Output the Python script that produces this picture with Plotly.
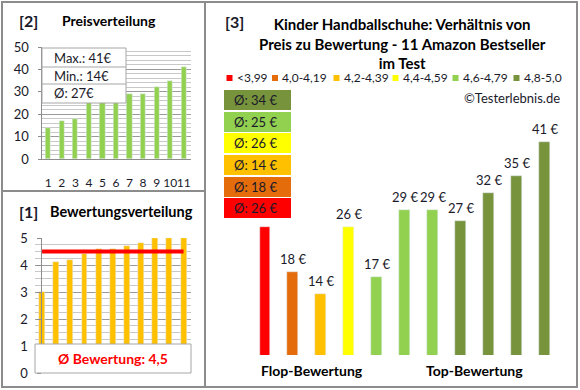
import plotly.graph_objects as go

# ---------------- data ----------------
categories = [str(i) for i in range(1, 12)]
prices = [26, 18, 14, 26, 17, 29, 29, 27, 32, 35, 41]          # right chart order (by rating)
ratings = [3.0, 4.1, 4.2, 4.4, 4.6, 4.6, 4.7, 4.8, 5.0, 5.0, 5.0]
prices_sorted = sorted(prices)
ratings_sorted = sorted(ratings)

group_labels = ["<3,99", "4,0-4,19", "4,2-4,39", "4,4-4,59", "4,6-4,79", "4,8-5,0"]
group_limits = [4.0, 4.2, 4.4, 4.6, 4.8, 99]
group_colors = ["#FF0000", "#E46C0A", "#FFC000", "#FFFF00", "#92D050", "#77933C"]


def group_of(r):
    for i, lim in enumerate(group_limits):
        if r < lim - 1e-9:
            return i
    return len(group_limits) - 1


bar_groups = [group_of(r) for r in ratings]
bar_colors = [group_colors[g] for g in bar_groups]
group_avgs = []
for g in range(len(group_labels)):
    vals = [p for p, bg in zip(prices, bar_groups) if bg == g]
    group_avgs.append(round(sum(vals) / len(vals)))

avg_price = round(sum(prices) / len(prices))
avg_rating = round(sum(ratings) / len(ratings), 1)

# ---------------- helpers ----------------
W, H = 580, 390
FONT = "Lato"
TXT = "#1A1A2A"
NB = "\u00a0"


def px(x):
    return x / W


def py(y):
    return 1 - y / H


fig = go.Figure()

# [2] price distribution
fig.add_trace(go.Bar(x=categories, y=prices_sorted, marker_color="#92D050",
                     width=0.38, xaxis="x", yaxis="y", showlegend=False))
# [1] rating distribution
fig.add_trace(go.Bar(x=categories, y=ratings_sorted, marker_color="#FFC000",
                     width=0.42, xaxis="x2", yaxis="y2", showlegend=False))
fig.add_trace(go.Scatter(x=categories, y=[avg_rating] * len(categories), mode="lines",
                         line=dict(color="#FF0000", width=4), xaxis="x2", yaxis="y2",
                         showlegend=False))
# [3] price vs rating
bar_x = list(range(len(prices)))
fig.add_trace(go.Bar(x=bar_x, y=prices, marker_color=bar_colors,
                     width=0.39, xaxis="x3", yaxis="y3", showlegend=False))

grid_major = "#9A9A9A"
grid_minor = "#C8C8C8"

fig.update_layout(
    width=W, height=H, margin=dict(l=0, r=0, t=0, b=0, autoexpand=False),
    paper_bgcolor="white", plot_bgcolor="white",
    font=dict(family=FONT, size=13, color=TXT),
    bargap=0,
    xaxis=dict(domain=[px(41.5), px(190.5)], type="category", showgrid=False,
               showline=True, linecolor="#8C8C8C", linewidth=1, ticks="",
               tickmode="array", tickvals=categories, tickangle=0,
               ticklabelstandoff=13, tickfont=dict(size=12, color=TXT), zeroline=False),
    yaxis=dict(domain=[py(159), py(47)], range=[0, 50], dtick=10, showgrid=True,
               gridcolor=grid_major, gridwidth=1, showline=True, linecolor="#8C8C8C",
               ticks="outside", ticklen=3, tickcolor="#8C8C8C", zeroline=False,
               tickfont=dict(size=13, color=TXT), ticklabelstandoff=6,
               minor=dict(dtick=2, showgrid=True, gridcolor=grid_minor, gridwidth=1)),
    xaxis2=dict(domain=[px(35), px(190.6)], type="category", showgrid=False,
                showticklabels=False, showline=False, ticks="", zeroline=False),
    yaxis2=dict(domain=[py(373), py(238)], range=[0, 5], dtick=1, showgrid=True,
                gridcolor=grid_major, gridwidth=1, showline=True, linecolor="#8C8C8C",
                ticks="outside", ticklen=4, tickcolor="#8C8C8C", zeroline=False,
                tickfont=dict(size=13, color=TXT), ticklabelstandoff=6,
                minor=dict(dtick=0.25, showgrid=True, gridcolor=grid_minor, gridwidth=1)),
    xaxis3=dict(domain=[px(251), px(558.5)], range=[-0.5, len(prices) - 0.5],
                visible=False),
    yaxis3=dict(domain=[py(355), py(120)], range=[3.2, 45], visible=False),
)

shapes = []
ann = []

# bar value labels of [3]; the first one lies hidden behind the red average box
for xi, p in zip(bar_x, prices):
    ann.append(dict(text=f"{p} €", x=xi, y=p, xref="x3", yref="y3", showarrow=False,
                    xanchor="center", yanchor="middle", yshift=13,
                    visible=(xi != 0),
                    font=dict(size=13, color=TXT)))

# frames
frame = "#8C8C8C"
shapes.append(dict(type="rect", xref="paper", yref="paper", x0=px(2), x1=px(577),
                   y0=py(387), y1=py(2), line=dict(color=frame, width=2)))
shapes.append(dict(type="line", xref="paper", yref="paper", x0=px(205), x1=px(205),
                   y0=py(387), y1=py(2), line=dict(color=frame, width=2)))
shapes.append(dict(type="line", xref="paper", yref="paper", x0=px(2), x1=px(205),
                   y0=py(191), y1=py(191), line=dict(color=frame, width=2)))

paper_ann = []
# panel titles
paper_ann.append(dict(text="<b>[2]</b>", x=px(17), y=py(20), xanchor="left", yanchor="middle",
                      font=dict(size=16, color=TXT)))
paper_ann.append(dict(text="<b>Preisverteilung</b>", x=px(109), y=py(20), xanchor="center",
                      yanchor="middle", font=dict(size=14, color="#000000")))
paper_ann.append(dict(text="<b>[1]</b>", x=px(17), y=py(211), xanchor="left", yanchor="middle",
                      font=dict(size=16, color=TXT)))
paper_ann.append(dict(text="<b>Bewertungsverteilung</b>", x=px(121), y=py(211),
                      xanchor="center", yanchor="middle",
                      font=dict(size=14.5, color="#000000")))
paper_ann.append(dict(text="<b>[3]</b>", x=px(223), y=py(21), xanchor="left", yanchor="middle",
                      font=dict(size=16, color=TXT)))
paper_ann.append(dict(text="<b>Kinder Handballschuhe: Verhältnis von<br>Preis zu Bewertung - 11 Amazon Bestseller<br>im Test</b>",
                      x=px(402), y=py(43), xanchor="center", yanchor="middle",
                      font=dict(size=15, color="#000000")))

# info box [2]
shapes.append(dict(type="rect", xref="paper", yref="paper", x0=px(42), x1=px(126),
                   y0=py(103), y1=py(48), fillcolor="white",
                   line=dict(color="#A6A6A6", width=1), layer="above"))
for yl in (67, 84):
    shapes.append(dict(type="line", xref="paper", yref="paper", x0=px(42), x1=px(126),
                       y0=py(yl), y1=py(yl), line=dict(color="#A6A6A6", width=1),
                       layer="above"))
info = [f"Max.: {max(prices)}€", f"Min.: {min(prices)}€", f"Ø: {avg_price}€"]
for t, yc in zip(info, (58, 76, 93)):
    paper_ann.append(dict(text=t, x=px(52), y=py(yc), xanchor="left", yanchor="middle",
                          font=dict(size=13, color=TXT)))

# rating box [1]
shapes.append(dict(type="rect", xref="paper", yref="paper", x0=px(35), x1=px(191),
                   y0=py(373), y1=py(344), fillcolor="white",
                   line=dict(color="#A6A6A6", width=1), layer="above"))
paper_ann.append(dict(text=f"<b>Ø Bewertung: {str(avg_rating).replace('.', ',')}</b>",
                      x=px(113), y=py(358.5), xanchor="center", yanchor="middle",
                      font=dict(size=14, color="#FF0000")))

# legend row [3]
leg_sq = [229.5, 275, 336.5, 395.5, 455.5, 516.5]
for g, (lab, col) in enumerate(zip(group_labels, group_colors)):
    cx = leg_sq[g]
    shapes.append(dict(type="rect", xref="paper", yref="paper", x0=px(cx - 3), x1=px(cx + 3),
                       y0=py(81), y1=py(75), fillcolor=col, line=dict(width=0)))
    paper_ann.append(dict(text=lab.replace("<", "&lt;"), x=px(cx + 5), y=py(78),
                          xanchor="left", yanchor="middle", font=dict(size=12, color=TXT)))

paper_ann.append(dict(text="©Testerlebnis.de", x=px(512), y=py(98), xanchor="center",
                      yanchor="middle", font=dict(size=13, color=TXT)))

# group average boxes
box_tops = [90, 112, 133, 155, 177, 198]
for i, g in enumerate(reversed(range(len(group_labels)))):
    top = box_tops[i]
    paper_ann.append(dict(text=f"{NB * 3}Ø: {group_avgs[g]} €", x=px(224), y=py(top),
                          xanchor="left", yanchor="top", align="left",
                          width=67, height=20, borderpad=0, borderwidth=0,
                          bgcolor=group_colors[g], valign="middle",
                          font=dict(size=13, color=TXT)))

paper_ann.append(dict(text="<b>Flop-Bewertung</b>", x=px(312), y=py(370), xanchor="center",
                      yanchor="middle", font=dict(size=14, color="#000000")))
paper_ann.append(dict(text="<b>Top-Bewertung</b>", x=px(474), y=py(370), xanchor="center",
                      yanchor="middle", font=dict(size=14, color="#000000")))

for a in paper_ann:
    a.update(xref="paper", yref="paper", showarrow=False)

fig.update_layout(shapes=shapes, annotations=ann + paper_ann)
fig.write_html("out.html", config={"displayModeBar": False},
               post_script="document.body.style.margin='0';document.body.style.overflow='hidden';")
